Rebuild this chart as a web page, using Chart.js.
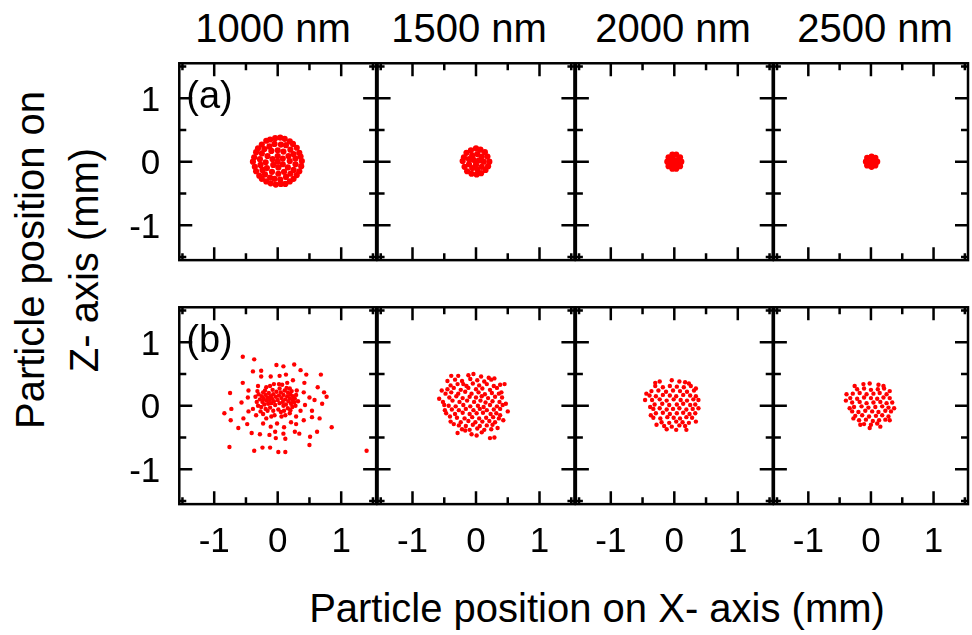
<!DOCTYPE html>
<html>
<head>
<meta charset="utf-8">
<script src="https://cdn.jsdelivr.net/npm/chart.js@4/dist/chart.umd.min.js"></script>
<style>
	body { margin: 0; background: #fff; }
	#stage { position: relative; width: 972px; height: 635px; overflow: hidden; font-family: "Liberation Sans", Arial, sans-serif; color: #000; }
	#stage canvas { position: absolute; left: 0; top: 0; }
	.txt { position: absolute; font-size: 40px; line-height: 54px; white-space: nowrap; text-align: center; }
</style>
</head>
<body>
<div id="stage">
	<div class="txt" style="left:173px;top:1px;width:200px">1000 nm</div>
	<div class="txt" style="left:369px;top:1px;width:200px">1500 nm</div>
	<div class="txt" style="left:573px;top:1px;width:200px">2000 nm</div>
	<div class="txt" style="left:775px;top:1px;width:200px">2500 nm</div>
	<div class="txt" style="left:197px;top:581px;width:800px">Particle position on X- axis (mm)</div>
	<div class="txt" style="left:-143px;top:206px;width:400px;transform:rotate(-90deg)">Particle position on<br>Z- axis (mm)</div>
</div>
<script>
// wavelengths per column, rows (a) and (b)
const sizes = ['1000 nm', '1500 nm', '2000 nm', '2500 nm'];
const rowTags = ['(a)', '(b)'];
const tickValues = [-1, 0, 1];
const tickMarks = [-1.5, -1, -0.5, 0, 0.5, 1, 1.5];

// row (a): particle positions [x, z] in mm
const a1000 = [
	[0.38,0.01],[0.36,0.08],[0.34,0.14],[0.30,0.22],[0.24,0.28],[0.19,0.32],[0.11,0.36],[0.04,0.38],[-0.04,0.37],[-0.12,0.35],
	[-0.18,0.33],[-0.25,0.27],[-0.31,0.21],[-0.34,0.15],[-0.37,0.07],[-0.39,0.00],[-0.36,-0.08],[-0.34,-0.15],[-0.29,-0.22],[-0.25,-0.27],
	[-0.18,-0.31],[-0.11,-0.34],[-0.03,-0.36],[0.05,-0.35],[0.12,-0.35],[0.19,-0.31],[0.25,-0.27],[0.30,-0.21],[0.34,-0.15],[0.37,-0.07],
	[0.28,0.05],[0.25,0.12],[0.20,0.19],[0.13,0.26],[0.05,0.27],[-0.05,0.28],[-0.13,0.24],[-0.21,0.20],[-0.25,0.13],[-0.28,0.04],
	[-0.27,-0.05],[-0.24,-0.13],[-0.20,-0.20],[-0.12,-0.25],[-0.05,-0.27],[0.04,-0.28],[0.13,-0.24],[0.20,-0.19],[0.25,-0.13],[0.28,-0.04],
	[0.19,0.01],[0.17,0.09],[0.09,0.16],[0.00,0.18],[-0.10,0.17],[-0.16,0.09],[-0.19,-0.01],[-0.17,-0.10],[-0.09,-0.16],[0.01,-0.19],
	[0.10,-0.16],[0.16,-0.09],[0.08,0.05],[0.00,0.09],[-0.08,0.04],[-0.07,-0.05],[0.01,-0.09],[0.08,-0.04],[0.00,0.00]
];
const a1500 = [
	[0.21,0.00],[0.18,0.08],[0.14,0.15],[0.07,0.19],[0.00,0.21],[-0.08,0.18],[-0.15,0.14],[-0.19,0.07],[-0.21,0.01],[-0.18,-0.08],
	[-0.14,-0.15],[-0.07,-0.19],[0.01,-0.20],[0.08,-0.18],[0.15,-0.13],[0.19,-0.07],
	[0.12,0.00],[0.09,0.08],[0.02,0.12],[-0.06,0.10],[-0.11,0.04],[-0.11,-0.04],[-0.06,-0.10],[0.02,-0.12],[0.09,-0.08],
	[0.05,0.02],[-0.04,0.03],[0.00,-0.05],[0.00,0.00]
];
const a2000 = [
	[0.11,0.00],[0.09,0.07],[0.03,0.11],[-0.03,0.11],[-0.09,0.07],[-0.11,0.00],[-0.09,-0.07],[-0.03,-0.11],[0.03,-0.11],[0.09,-0.07],
	[0.04,0.02],[-0.03,0.04],[-0.04,-0.03],[0.03,-0.04],[0.00,0.00]
];
const a2500 = [
	[0.10,0.00],[0.07,0.06],[0.01,0.08],[-0.06,0.06],[-0.08,0.00],[-0.06,-0.06],[0.01,-0.08],[0.07,-0.06],[0.03,0.01],[-0.02,-0.01]
];

// row (b): particle positions [x, z] in mm
const b1000 = [
	[-0.55,0.77],[-0.37,0.73],[-0.02,0.64],[0.09,0.62],[0.26,0.65],[-0.39,0.54],[-0.26,0.55],[0.36,0.56],[-0.11,0.46],[0.03,0.47],
	[0.13,0.49],[0.45,0.49],[0.68,0.49],[-0.26,0.46],[-0.55,0.36],[-0.31,0.31],[-0.12,0.31],[0.02,0.34],[0.15,0.36],[0.24,0.40],
	[0.42,0.36],[0.63,0.29],[-0.75,0.20],[-0.46,0.24],[0.73,0.21],[0.77,0.14],[-0.57,0.05],[-0.84,-0.12],[-0.73,-0.05],[-0.74,-0.23],
	[-0.62,-0.35],[-0.46,-0.09],[-0.54,-0.20],[-0.48,-0.29],[-0.41,-0.43],[-0.28,-0.45],[-0.13,-0.46],[-0.03,-0.51],[0.12,-0.52],[0.27,-0.41],
	[0.34,-0.44],[0.51,-0.49],[0.62,-0.41],[0.85,-0.34],[0.66,-0.20],[0.54,-0.18],[0.70,0.03],[0.58,0.09],[-0.76,-0.65],[-0.37,-0.71],
	[-0.24,-0.66],[-0.12,-0.66],[0.01,-0.73],[0.12,-0.73],[0.50,-0.62],[1.40,-0.71],
	[-0.32,0.23],[-0.18,0.29],[-0.06,0.34],[0.07,0.33],[0.19,0.27],[0.30,0.24],[0.41,0.21],[0.50,0.13],[0.43,0.01],[0.36,-0.08],
	[0.41,-0.23],[0.29,-0.29],[0.21,-0.26],[0.10,-0.34],[-0.01,-0.28],[-0.11,-0.33],[-0.23,-0.28],[-0.34,-0.15],[-0.39,-0.05],[-0.33,0.06],
	[-0.04,-0.41],[-0.18,-0.20],[-0.05,-0.15],[0.06,-0.17],[0.19,-0.12],[0.29,-0.17],[0.23,-0.02],[0.10,-0.08],[-0.16,-0.08],[-0.27,-0.09],
	[-0.47,0.13],[0.09,-0.44],[0.54,-0.08],
	[-0.28,0.10],[-0.25,0.15],[-0.24,0.06],[-0.22,0.11],[-0.21,0.02],[-0.19,0.17],[-0.18,0.08],[-0.16,0.13],[-0.15,0.03],[-0.14,0.20],
	[-0.13,0.09],[-0.11,0.15],[-0.10,0.04],[-0.09,0.11],[-0.07,0.18],[-0.06,0.07],[-0.04,0.01],[-0.03,0.14],[-0.02,0.22],[0.00,0.09],
	[0.02,0.16],[0.03,0.04],[0.05,0.21],[0.06,0.12],[0.08,0.06],[0.09,0.17],[0.11,0.24],[0.12,0.10],[0.13,0.02],[0.15,0.15],
	[0.16,0.21],[0.17,0.07],[0.19,0.12],[0.20,0.18],[0.21,0.03],[0.23,0.09],[0.24,0.15],[0.26,0.05],[0.27,0.11],[-0.26,-0.02],
	[-0.12,-0.03],[0.01,-0.06],[0.16,-0.04],[0.09,0.00],[-0.20,0.24],
	[-0.30,0.18],[-0.23,0.21],[-0.08,0.25],[0.03,0.27],[0.14,0.28],[0.22,0.23],[0.29,0.17],[-0.31,0.00],[-0.19,-0.05],[-0.07,-0.08],
	[0.05,-0.10],[0.20,-0.07],[0.28,0.00],[-0.23,-0.13],[-0.10,-0.17],[0.12,-0.15],[-0.35,0.14],[0.32,0.07]
];
const b1500 = [
	[-0.39,0.47],[-0.28,0.47],[-0.12,0.48],[-0.04,0.50],[0.08,0.46],[0.20,0.44],[0.29,0.43],[-0.45,0.39],[-0.20,0.34],[0.38,0.33],
	[0.45,0.34],[-0.54,0.24],[-0.58,0.11],[0.40,0.21],[0.47,0.03],[0.50,-0.09],[-0.50,0.01],[-0.49,-0.07],[-0.41,-0.17],[-0.35,-0.29],
	[-0.29,-0.43],[-0.17,-0.39],[-0.07,-0.45],[0.01,-0.47],[0.09,-0.42],[0.22,-0.51],[0.29,-0.50],[0.34,-0.35],[0.43,-0.23],[0.38,-0.15],
	[-0.33,0.41],[-0.22,0.39],[-0.09,0.42],[0.02,0.40],[0.13,0.38],[0.24,0.41],
	[-0.40,0.32],[-0.29,0.34],[-0.15,0.31],[-0.05,0.35],[0.05,0.32],[0.17,0.34],[0.28,0.31],
	[-0.45,0.26],[-0.35,0.28],[-0.24,0.25],[-0.12,0.28],[0.00,0.26],[0.10,0.27],[0.22,0.25],[0.33,0.28],
	[-0.48,0.19],[-0.39,0.21],[-0.28,0.19],[-0.17,0.22],[-0.07,0.19],[0.04,0.21],[0.14,0.18],[0.25,0.20],[0.36,0.19],
	[-0.42,0.13],[-0.31,0.15],[-0.21,0.12],[-0.10,0.14],[0.00,0.13],[0.09,0.15],[0.19,0.12],[0.30,0.14],[0.41,0.13],
	[-0.52,0.06],[-0.37,0.08],[-0.26,0.06],[-0.14,0.08],[-0.03,0.06],[0.07,0.08],[0.15,0.05],[0.26,0.07],[0.37,0.06],
	[-0.43,0.00],[-0.32,-0.01],[-0.20,0.01],[-0.09,-0.01],[0.03,0.00],[0.12,-0.02],[0.22,0.01],[0.33,-0.01],[0.42,0.01],
	[-0.38,-0.06],[-0.27,-0.07],[-0.16,-0.05],[-0.04,-0.07],[0.06,-0.05],[0.17,-0.07],[0.28,-0.06],[0.38,-0.05],
	[-0.47,-0.12],[-0.33,-0.13],[-0.21,-0.11],[-0.10,-0.13],[0.01,-0.12],[0.11,-0.11],[0.23,-0.13],[0.32,-0.12],
	[-0.30,-0.19],[-0.18,-0.20],[-0.06,-0.18],[0.05,-0.20],[0.16,-0.19],[0.27,-0.18],[0.36,-0.20],
	[-0.40,-0.25],[-0.24,-0.26],[-0.12,-0.24],[-0.01,-0.26],[0.10,-0.25],[0.21,-0.24],[0.30,-0.26],
	[-0.27,-0.31],[-0.16,-0.32],[-0.05,-0.30],[0.06,-0.32],[0.17,-0.31],[0.26,-0.30],
	[-0.22,-0.37],[-0.10,-0.38],[0.02,-0.36],[0.13,-0.38],[0.24,-0.37]
];
const b2000 = [
	[-0.30,0.36],[-0.23,0.38],[-0.04,0.40],[0.08,0.38],[0.17,0.37],[0.23,0.35],[0.34,0.27],[-0.44,0.19],[-0.46,0.09],[0.38,-0.04],
	[0.34,-0.25],[0.19,-0.38],[0.03,-0.38],[-0.12,-0.37],[-0.28,-0.30],[-0.37,-0.15],[-0.38,-0.02],
	[-0.30,0.31],[-0.18,0.29],[-0.07,0.31],[0.04,0.30],[0.15,0.29],[0.26,0.31],
	[-0.36,0.23],[-0.25,0.24],[-0.13,0.22],[-0.02,0.24],[0.09,0.23],[0.20,0.22],[0.31,0.24],
	[-0.39,0.16],[-0.29,0.15],[-0.18,0.17],[-0.07,0.16],[0.03,0.15],[0.14,0.17],[0.25,0.16],[0.34,0.15],
	[-0.35,0.09],[-0.23,0.10],[-0.12,0.08],[-0.01,0.10],[0.10,0.09],[0.20,0.08],[0.30,0.10],[0.38,0.09],
	[-0.31,0.02],[-0.19,0.03],[-0.08,0.01],[0.04,0.02],[0.14,0.03],[0.25,0.01],[0.33,0.02],
	[-0.33,-0.05],[-0.23,-0.04],[-0.12,-0.06],[-0.02,-0.05],[0.08,-0.04],[0.19,-0.06],[0.29,-0.05],
	[-0.29,-0.12],[-0.18,-0.11],[-0.07,-0.13],[0.04,-0.12],[0.14,-0.11],[0.24,-0.13],[0.33,-0.12],
	[-0.33,-0.19],[-0.22,-0.20],[-0.11,-0.18],[-0.01,-0.19],[0.09,-0.20],[0.19,-0.18],[0.28,-0.19],
	[-0.20,-0.26],[-0.08,-0.27],[0.03,-0.25],[0.13,-0.26],[0.23,-0.27],
	[-0.16,-0.32],[-0.04,-0.33],[0.08,-0.31],[0.17,-0.32]
];
const b2500 = [
	[-0.26,0.31],[-0.12,0.34],[-0.02,0.35],[0.12,0.33],[0.20,0.31],[-0.39,0.18],[-0.40,0.08],[0.30,0.23],[0.37,-0.04],[0.30,-0.23],
	[0.15,-0.33],[-0.02,-0.35],[-0.17,-0.30],[-0.28,-0.20],[-0.34,-0.04],
	[-0.22,0.26],[-0.11,0.27],[0.00,0.25],[0.11,0.26],[0.21,0.27],
	[-0.29,0.19],[-0.18,0.20],[-0.07,0.18],[0.04,0.19],[0.14,0.20],[0.25,0.18],
	[-0.33,0.12],[-0.22,0.11],[-0.11,0.13],[0.00,0.12],[0.10,0.11],[0.20,0.13],[0.30,0.12],
	[-0.30,0.05],[-0.18,0.06],[-0.07,0.04],[0.04,0.05],[0.15,0.06],[0.25,0.04],[0.34,0.05],
	[-0.27,-0.02],[-0.15,-0.01],[-0.04,-0.03],[0.07,-0.02],[0.18,-0.01],[0.28,-0.03],
	[-0.30,-0.09],[-0.20,-0.10],[-0.09,-0.08],[0.02,-0.09],[0.12,-0.10],[0.23,-0.08],[0.32,-0.09],
	[-0.25,-0.16],[-0.14,-0.15],[-0.03,-0.17],[0.08,-0.16],[0.18,-0.15],[0.28,-0.17],
	[-0.19,-0.23],[-0.08,-0.22],[0.03,-0.24],[0.13,-0.23],[0.23,-0.22],
	[-0.11,-0.29],[0.00,-0.30],[0.10,-0.28]
];

const panels = [
	[a1000, a1500, a2000, a2500],
	[b1000, b1500, b2000, b2500]
];

// grid geometry (px)
const W = 972, H = 635;
const colCenters = [277.7, 476, 674.3, 872.3];
const rowCenters = [161.7, 405.7];
const unit = 63.5;
const lim = 1.55;

const frame = {
	id: 'frame',
	afterDraw(chart, args, opts) {
		const { ctx, chartArea: a } = chart;
		const x = chart.scales.x, y = chart.scales.y;
		ctx.save();
		ctx.strokeStyle = '#000';
		ctx.lineWidth = 2.5;
		ctx.strokeRect(a.left, a.top, a.right - a.left, a.bottom - a.top);
		ctx.beginPath();
		for (const v of tickMarks) {
			const len = Number.isInteger(v) ? 13 : 7;
			const px = x.getPixelForValue(v), py = y.getPixelForValue(v);
			ctx.moveTo(px, a.bottom); ctx.lineTo(px, a.bottom - len);
			ctx.moveTo(px, a.top); ctx.lineTo(px, a.top + len);
			ctx.moveTo(a.left, py); ctx.lineTo(a.left + len, py);
			ctx.moveTo(a.right, py); ctx.lineTo(a.right - len, py);
		}
		ctx.stroke();

		ctx.fillStyle = '#000';
		ctx.textBaseline = 'alphabetic';
		ctx.font = '35px "Liberation Sans", Arial, sans-serif';
		if (opts.yLabels) {
			ctx.textAlign = 'right';
			for (const v of tickValues) ctx.fillText(String(v), a.left - 19, y.getPixelForValue(v) + 12.5);
		}
		if (opts.xLabels) {
			ctx.textAlign = 'center';
			for (const v of tickValues) ctx.fillText(String(v), x.getPixelForValue(v), a.bottom + 48);
		}
		if (opts.tag) {
			ctx.font = '38px "Liberation Sans", Arial, sans-serif';
			ctx.textAlign = 'left';
			ctx.fillText(opts.tag, a.left + 7, a.top + 45);
		}
		ctx.restore();
	}
};

const stage = document.getElementById('stage');

panels.forEach((row, r) => {
	row.forEach((points, c) => {
		const canvas = document.createElement('canvas');
		canvas.width = W;
		canvas.height = H;
		stage.appendChild(canvas);

		const half = lim * unit;
		new Chart(canvas.getContext('2d'), {
			type: 'scatter',
			data: {
				datasets: [{
					label: sizes[c] + ' ' + rowTags[r],
					data: points.map(p => ({ x: p[0], y: p[1] })),
					backgroundColor: '#ff0000',
					borderWidth: 0,
					pointRadius: r === 0 ? 3.1 : 2.2
				}]
			},
			options: {
				responsive: false,
				animation: false,
				layout: {
					padding: {
						left: colCenters[c] - half,
						right: W - (colCenters[c] + half),
						top: rowCenters[r] - half,
						bottom: H - (rowCenters[r] + half)
					}
				},
				scales: {
					x: { type: 'linear', min: -lim, max: lim, display: false },
					y: { type: 'linear', min: -lim, max: lim, display: false }
				},
				plugins: {
					legend: { display: false },
					tooltip: { enabled: false },
					frame: {
						yLabels: c === 0,
						xLabels: r === 1,
						tag: c === 0 ? rowTags[r] : null
					}
				}
			},
			plugins: [frame]
		});
	});
});
</script>
</body>
</html>
